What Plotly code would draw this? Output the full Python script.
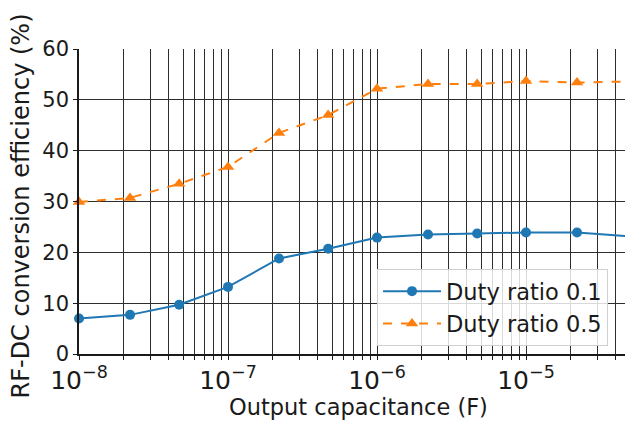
import plotly.graph_objects as go

capacitance = [1e-8, 2.2e-8, 4.7e-8, 1e-7, 2.2e-7, 4.7e-7, 1e-6, 2.2e-6, 4.7e-6, 1e-5, 2.2e-5, 4.7e-5]
eff_duty01 = [7.0, 7.7, 9.7, 13.2, 18.8, 20.7, 22.9, 23.5, 23.7, 23.9, 23.9, 23.2]
eff_duty05 = [29.9, 30.7, 33.5, 36.8, 43.5, 47.0, 52.2, 53.1, 53.1, 53.7, 53.4, 53.6]
y_ticks = [0, 10, 20, 30, 40, 50, 60]

FONT = "DejaVu Sans"
INK = "#1a1a1a"
GRID = "#2e2e2e"
W, H = 625, 421
L, T, B = 79, 49, 67
DECADE_PX = 149.0

fig = go.Figure()
fig.add_trace(go.Scatter(
    x=capacitance, y=eff_duty01, mode="lines+markers", name="Duty ratio 0.1",
    line=dict(color="#1f77b4", width=2),
    marker=dict(symbol="circle", size=10, color="#1f77b4"),
    cliponaxis=False,
))
fig.add_trace(go.Scatter(
    x=capacitance, y=eff_duty05, mode="lines+markers", name="Duty ratio 0.5",
    line=dict(color="#ff7f0e", width=2, dash="dash"),
    marker=dict(symbol="triangle-up", size=11, color="#ff7f0e"),
    cliponaxis=False,
))

fig.update_xaxes(
    type="log", range=[-8, -8 + (W - L) / DECADE_PX],
    dtick=1, exponentformat="power", showexponent="all",
    showgrid=True, gridcolor=GRID, gridwidth=1.4,
    ticks="outside", ticklen=4, tickcolor=INK,
    minor=dict(dtick="D1", showgrid=True, gridcolor=GRID, gridwidth=1.4,
               ticks="outside", ticklen=4, tickcolor=INK),
    showline=True, linecolor=INK, linewidth=1.6,
    tickfont=dict(family=FONT, size=20, color=INK),
    zeroline=False,
)
fig.update_yaxes(
    range=[0, 60], tickvals=y_ticks,
    showgrid=True, gridcolor=GRID, gridwidth=1.4,
    ticks="outside", ticklen=4, tickcolor=INK,
    showline=True, linecolor=INK, linewidth=1.6,
    tickfont=dict(family=FONT, size=21, color=INK),
    zeroline=False,
)

fig.update_layout(
    width=W, height=H,
    margin=dict(l=L, r=0, t=T, b=B, pad=0),
    paper_bgcolor="white", plot_bgcolor="white",
    font=dict(family=FONT, color=INK),
    showlegend=True,
    legend=dict(
        x=(377 - L) / (W - L), y=(H - B - 269) / (H - B - T),
        xanchor="left", yanchor="top",
        bgcolor="rgba(255,255,255,0.82)", bordercolor="#d0d0d0", borderwidth=1,
        font=dict(family=FONT, size=22.5, color=INK),
        itemwidth=58, tracegroupgap=0,
    ),
    annotations=[
        dict(text="Output capacitance (F)", xref="paper", yref="paper",
             x=(358 - L) / (W - L), y=0, yshift=-(407 - (H - B)), xanchor="center", yanchor="middle",
             showarrow=False, font=dict(family=FONT, size=22.5, color=INK)),
        dict(text="RF-DC conversion efficiency (%)", xref="paper", yref="paper",
             x=0, xshift=20 - L, y=0.5, yshift=-5, textangle=-90, xanchor="center", yanchor="middle",
             showarrow=False, font=dict(family=FONT, size=24, color=INK)),
    ],
)

fig.write_html("out.html")
